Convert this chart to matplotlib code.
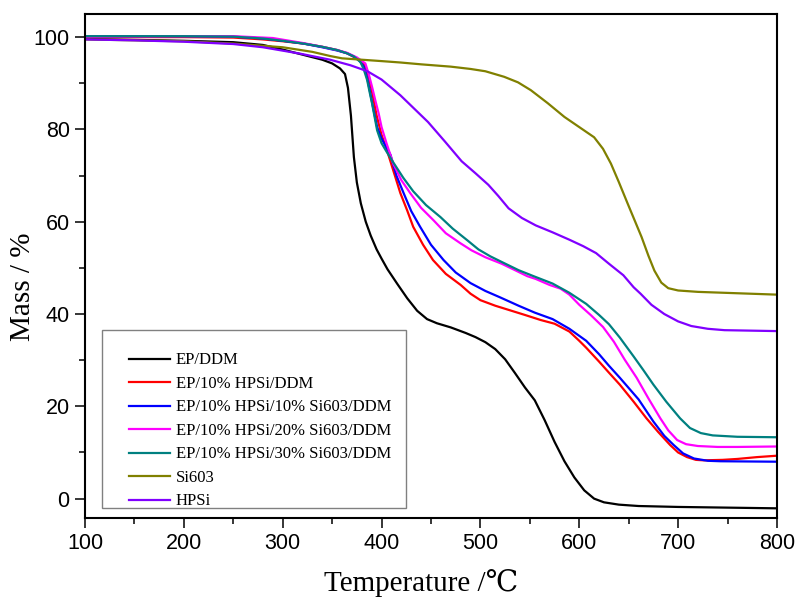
import matplotlib
matplotlib.use("Agg")
import matplotlib.pyplot as plt
from matplotlib.patches import Rectangle
from matplotlib.ticker import MultipleLocator

# TGA curves (temperature in C, mass in %)
t_ep = [100, 150, 200, 250, 280, 300, 320, 340, 350, 358, 363, 366, 369, 372, 375, 379, 384, 389,
        395, 400, 406, 416, 426, 436, 446, 456, 470, 485, 495, 505, 515, 525, 535, 545, 555, 565,
        575, 585, 595, 605, 615, 625, 640, 660, 700, 750, 800]
m_ep = [99.6, 99.4, 99.2, 98.9, 98.3, 97.3, 96.2, 95.1, 94.3, 93.2, 92.0, 89.0, 83.0, 74.0, 68.5, 64.0,
        60.0, 57.0, 54.0, 52.0, 49.7, 46.5, 43.4, 40.7, 38.9, 38.0, 37.1, 35.9, 35.0, 33.9, 32.4, 30.2,
        27.2, 24.1, 21.3, 17.0, 12.3, 8.1, 4.6, 1.8, 0.0, -0.8, -1.3, -1.6, -1.8, -1.95, -2.1]

t_hp = [100, 200, 250, 280, 300, 321, 340, 355, 365, 372, 378, 383, 387, 391, 395, 400, 405, 412,
        419, 426, 432, 442, 452, 465, 480, 490, 500, 515, 530, 545, 561, 575, 590, 600, 607, 620,
        630, 641, 655, 668, 680, 692, 700, 709, 718, 726, 745, 760, 780, 800]
m_hp = [100.0, 100.0, 99.9, 99.5, 99.1, 98.6, 97.9, 97.2, 96.5, 95.7, 95.0, 93.8, 91.5, 87.5, 83.0, 78.8,
        75.8, 71.0, 66.2, 62.4, 58.9, 55.0, 51.7, 48.7, 46.3, 44.4, 43.0, 41.8, 40.8, 39.8, 38.7, 37.9,
        36.2, 34.2, 32.7, 29.7, 27.3, 24.7, 21.0, 17.4, 14.4, 11.6, 10.0, 9.0, 8.4, 8.3, 8.4, 8.6, 9.0, 9.3]

t_hp10 = [100, 200, 250, 280, 300, 321, 340, 355, 365, 372, 378, 382, 385.4, 388, 391, 395.5, 400,
          409, 415, 422.5, 430, 439, 450, 462.7, 475, 490, 505, 520, 538.6, 555, 573, 590, 607, 620,
          630, 641, 660, 675, 686, 695.6, 705, 716, 730, 743, 800]
m_hp10 = [100.2, 100.2, 100.1, 99.7, 99.2, 98.6, 97.8, 97.1, 96.5, 95.8, 94.8, 93.6, 91.2, 88.5, 85.2,
          80.5, 78.0, 74.5, 70.0, 66.1, 62.3, 58.9, 55.0, 51.7, 49.0, 46.7, 45.0, 43.6, 41.8, 40.3, 38.9,
          36.8, 34.2, 31.3, 28.8, 26.2, 21.5, 16.7, 13.6, 11.6, 9.8, 8.7, 8.2, 8.1, 8.0]

t_hp20 = [100, 200, 250, 290, 321, 340, 355, 365, 375, 383.6, 387, 390.4, 394, 397, 400, 405, 412,
          420, 429, 440, 452.6, 465, 480, 491, 505, 521.5, 535, 547.4, 556, 570, 581, 590, 600, 612,
          624, 635, 646, 658, 670, 682, 690, 699, 708, 720, 740, 760, 800]
m_hp20 = [100.1, 100.2, 100.2, 99.8, 98.7, 97.9, 97.2, 96.6, 95.6, 94.3, 92.0, 89.2, 86.0, 83.5, 80.5,
          77.0, 72.5, 69.0, 66.2, 63.0, 60.3, 57.5, 55.3, 53.8, 52.3, 50.9, 49.5, 48.2, 47.6, 46.3, 45.5,
          44.2, 42.0, 39.7, 37.2, 34.0, 30.1, 26.2, 21.7, 17.4, 14.8, 12.7, 11.8, 11.4, 11.2, 11.2, 11.3]

t_hp30 = [100, 200, 250, 280, 300, 321, 340, 355, 365, 372, 378.6, 382, 385.4, 388, 390.4, 395.5, 400,
          405, 412, 422, 432, 445, 459.6, 472, 486.6, 498, 510, 520.4, 538.6, 553.8, 573, 590, 607,
          620, 630, 641, 655, 665, 675, 688, 702, 712, 723, 735, 760, 800]
m_hp30 = [100.2, 100.2, 100.1, 99.7, 99.2, 98.6, 97.9, 97.2, 96.5, 95.8, 94.6, 93.0, 90.7, 88.0, 85.6,
          79.8, 77.0, 75.2, 72.8, 69.5, 66.6, 63.6, 61.0, 58.5, 56.0, 54.0, 52.5, 51.4, 49.5, 48.2, 46.6,
          44.6, 42.2, 39.8, 37.8, 34.9, 30.8, 27.8, 24.7, 21.0, 17.4, 15.3, 14.2, 13.7, 13.4, 13.3]

t_si = [100, 150, 200, 250, 300, 330, 348, 360, 380, 400, 419, 440, 470, 490, 505, 524, 538, 551,
        568, 585, 600, 615, 624, 632, 640, 649, 656, 663, 670, 676, 683, 690, 700, 720, 760, 800]
m_si = [99.5, 99.3, 99.1, 98.6, 97.8, 96.8, 95.9, 95.4, 95.1, 94.8, 94.5, 94.1, 93.6, 93.1, 92.6, 91.4,
        90.2, 88.5, 85.7, 82.7, 80.5, 78.3, 75.8, 72.6, 68.6, 63.9, 60.3, 56.7, 52.6, 49.4, 46.8, 45.6,
        45.1, 44.8, 44.5, 44.2]

t_hpsi = [100, 150, 200, 250, 280, 318, 348, 368.5, 385.7, 400, 419, 433, 447, 464, 481, 495, 508,
          518, 528.5, 542, 556, 573, 590, 604, 617, 630, 644.6, 655, 662, 673, 686, 700, 713.3, 730,
          747, 800]
m_hpsi = [99.5, 99.3, 99.0, 98.5, 97.8, 96.4, 95.1, 93.9, 92.6, 90.8, 87.4, 84.5, 81.6, 77.4, 73.1, 70.5,
          68.0, 65.6, 62.9, 60.8, 59.2, 57.7, 56.1, 54.7, 53.2, 50.9, 48.4, 45.8, 44.4, 42.0, 40.0, 38.4,
          37.4, 36.8, 36.5, 36.3]

series = [
    (t_ep, m_ep, "EP/DDM", "#000000"),
    (t_hp, m_hp, "EP/10% HPSi/DDM", "#ff0000"),
    (t_hp10, m_hp10, "EP/10% HPSi/10% Si603/DDM", "#0000ff"),
    (t_hp20, m_hp20, "EP/10% HPSi/20% Si603/DDM", "#ff00ff"),
    (t_hp30, m_hp30, "EP/10% HPSi/30% Si603/DDM", "#008080"),
    (t_si, m_si, "Si603", "#808000"),
    (t_hpsi, m_hpsi, "HPSi", "#8000ff"),
]

serif = ["Liberation Serif", "DejaVu Serif"]
sans = ["Liberation Sans", "DejaVu Sans"]

fig = plt.figure(figsize=(7.96, 5.97), dpi=100)
ax = fig.add_axes([0.1068, 0.1323, 0.8693, 0.8442])

for t, m, lab, col in series:
    ax.plot(t, m, color=col, lw=1.6, label=lab)

ax.set_xlim(100, 800)
ax.set_ylim(-4.2, 105)
ax.xaxis.set_major_locator(MultipleLocator(100))
ax.xaxis.set_minor_locator(MultipleLocator(50))
ax.yaxis.set_major_locator(MultipleLocator(20))
ax.yaxis.set_minor_locator(MultipleLocator(10))
ax.tick_params(which="major", direction="out", length=7, width=1.1, labelsize=15.5, pad=4)
ax.tick_params(which="minor", direction="out", length=4.5, width=1.1)
for lbl in ax.get_xticklabels() + ax.get_yticklabels():
    lbl.set_family(sans)
for sp in ax.spines.values():
    sp.set_linewidth(1.5)

ax.set_xlabel("Temperature /\u2103", family=serif, fontsize=21)
ax.set_ylabel("Mass / %", family=serif, fontsize=21)
ax.xaxis.set_label_coords(0.486, -0.129)
ax.xaxis.label.set_va("center")
ax.yaxis.set_label_coords(-0.0897, 0.458)
ax.yaxis.label.set_va("center")
ax.yaxis.label.set_ha("center")

# legend frame drawn separately (Origin-style padding)
ax.add_patch(Rectangle((0.0246, 0.0198), 0.44, 0.353, transform=ax.transAxes,
                       fill=False, edgecolor="#808080", lw=1.0, zorder=5))
ax.legend(loc="lower left", bbox_to_anchor=(0.046, -0.006), frameon=False,
          prop={"family": serif, "size": 12}, handlelength=2.5, handletextpad=0.35,
          labelspacing=0.45, borderpad=0.2)

fig.savefig("out.png", dpi=100, facecolor="white")
